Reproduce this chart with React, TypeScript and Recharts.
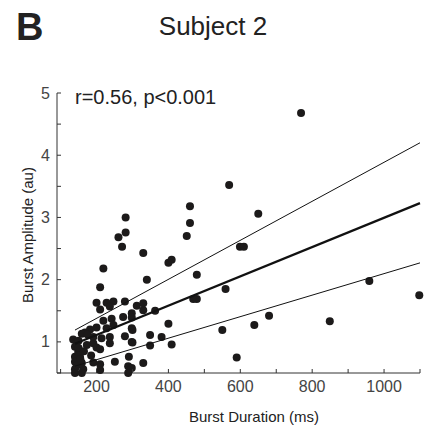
import { ScatterChart, Scatter, XAxis, YAxis } from 'recharts'

// burst duration (ms) and amplitude (au) for each burst
const durationMs = [
  460, 460, 451, 281, 281, 261, 271, 330, 219, 400, 409, 479, 210, 340, 200, 228, 247, 210,
  237, 279, 312, 330, 330, 363, 274, 298, 298, 469, 479, 219, 242, 247, 200, 228, 182, 168,
  159, 191, 214, 237, 298, 400, 135, 140, 173, 191, 200, 210, 237, 279, 298, 349, 349, 381,
  409, 140, 154, 140, 159, 191, 210, 251, 290, 330, 288, 298, 288, 140, 140, 163, 210, 149,
  159, 300, 300, 145, 150, 145, 155, 165, 175, 185, 150,
  769, 569, 650, 599, 610, 559, 959, 1098, 550, 639, 680, 849, 590,
]
const amplitudeAu = [
  3.18, 2.91, 2.7, 3.0, 2.76, 2.68, 2.53, 2.43, 2.18, 2.27, 2.32, 2.08, 1.88, 2.0, 1.63, 1.63, 1.65, 1.52,
  1.57, 1.65, 1.58, 1.62, 1.51, 1.5, 1.4, 1.46, 1.39, 1.69, 1.69, 1.34, 1.37, 1.27, 1.23, 1.22, 1.2, 1.15,
  1.13, 1.08, 1.06, 1.08, 1.22, 1.29, 1.04, 0.92, 0.95, 0.98, 0.91, 0.88, 0.98, 1.09, 1.0, 1.11, 0.94, 1.08,
  0.96, 0.76, 0.76, 0.68, 0.66, 0.67, 0.64, 0.68, 0.76, 0.66, 0.61, 0.58, 0.5, 0.56, 0.5, 0.56, 0.55, 0.84,
  0.5, 1.19, 0.99, 1.0, 0.9, 0.62, 0.72, 0.85, 1.12, 0.78, 1.02,
  4.68, 3.52, 3.06, 2.53, 2.53, 1.85, 1.98, 1.75, 1.19, 1.27, 1.42, 1.33, 0.75,
]

// regression fit and its bounds, at the ends of the data range
const fitX = [140, 1100]
const fitMid = [0.97, 3.23]
const fitUpper = [1.19, 4.2]
const fitLower = [0.61, 2.27]

const xTicks = [100, 200, 300, 400, 500, 600, 700, 800, 900, 1000, 1100]
const yTicks = [0.5, 1, 1.5, 2, 2.5, 3, 3.5, 4, 4.5, 5]

const points = durationMs.map((x, i) => ({ x, y: amplitudeAu[i] }))
const toLine = (ys: number[]) => fitX.map((x, i) => ({ x, y: ys[i] }))

const FONT = '"Liberation Sans", Arial, sans-serif'
const AXIS = '#333'

const YTick = ({ x, y, payload }: any) => (
  <g>
    <line x1={x} x2={x + 4} y1={y} y2={y} stroke={AXIS} />
    {Number.isInteger(payload.value) && (
      <text x={x - 7} y={y} dy="0.35em" textAnchor="end" fontSize={16} fill="#444" fontFamily={FONT}>
        {payload.value}
      </text>
    )}
  </g>
)

const XTick = ({ x, y, payload }: any) => (
  <g>
    <line x1={x} x2={x} y1={y} y2={y - 4} stroke={AXIS} />
    {payload.value % 200 === 0 && (
      <text x={x} y={y + 19} textAnchor="middle" fontSize={16} fill="#444" fontFamily={FONT}>
        {payload.value}
      </text>
    )}
  </g>
)

const Dot = ({ cx, cy }: any) => <circle cx={cx} cy={cy} r={4} fill="#1c1a1a" />
const NoDot = () => null

export default function App() {
  return (
    <div style={{ position: 'absolute', left: 0, top: 0, width: 432, height: 432, background: '#fff' }}>
      <ScatterChart width={432} height={432} margin={{ top: 93, left: 56, right: 12, bottom: 58 }}>
        <XAxis
          type="number"
          dataKey="x"
          domain={[90, 1100]}
          ticks={xTicks}
          interval={0}
          height={1}
          tickSize={0}
          tickMargin={0}
          tick={<XTick />}
          axisLine={{ stroke: AXIS }}
          label={{
            content: () => (
              <text x={254} y={422} textAnchor="middle" fontSize={15} fill="#222" fontFamily={FONT}>
                Burst Duration (ms)
              </text>
            ),
          }}
        />
        <YAxis
          type="number"
          dataKey="y"
          domain={[0.5, 5]}
          ticks={yTicks}
          interval={0}
          width={1}
          tickSize={0}
          tickMargin={0}
          tick={<YTick />}
          axisLine={{ stroke: AXIS }}
          label={{
            content: () => (
              <text
                x={27}
                y={235}
                transform="rotate(-90, 27, 235)"
                textAnchor="middle"
                dominantBaseline="central"
                fontSize={15}
                fill="#222"
                fontFamily={FONT}
              >
                Burst Amplitude (au)
              </text>
            ),
          }}
        />
        <Scatter data={points} shape={<Dot />} isAnimationActive={false} />
        <Scatter data={toLine(fitUpper)} shape={<NoDot />} line={{ stroke: '#111', strokeWidth: 1 }} isAnimationActive={false} />
        <Scatter data={toLine(fitMid)} shape={<NoDot />} line={{ stroke: '#111', strokeWidth: 2.2 }} isAnimationActive={false} />
        <Scatter data={toLine(fitLower)} shape={<NoDot />} line={{ stroke: '#111', strokeWidth: 1 }} isAnimationActive={false} />
      </ScatterChart>
      <svg width={432} height={432} style={{ position: 'absolute', left: 0, top: 0, pointerEvents: 'none' }}>
        <text x={16} y={40} fontSize={38} fontWeight="bold" fill="#222" fontFamily={FONT}>B</text>
        <text x={213} y={35} textAnchor="middle" fontSize={26} fill="#222" fontFamily={FONT}>Subject 2</text>
        <text x={75} y={104} fontSize={20} fill="#222" fontFamily={FONT}>r=0.56, p&lt;0.001</text>
      </svg>
    </div>
  )
}
